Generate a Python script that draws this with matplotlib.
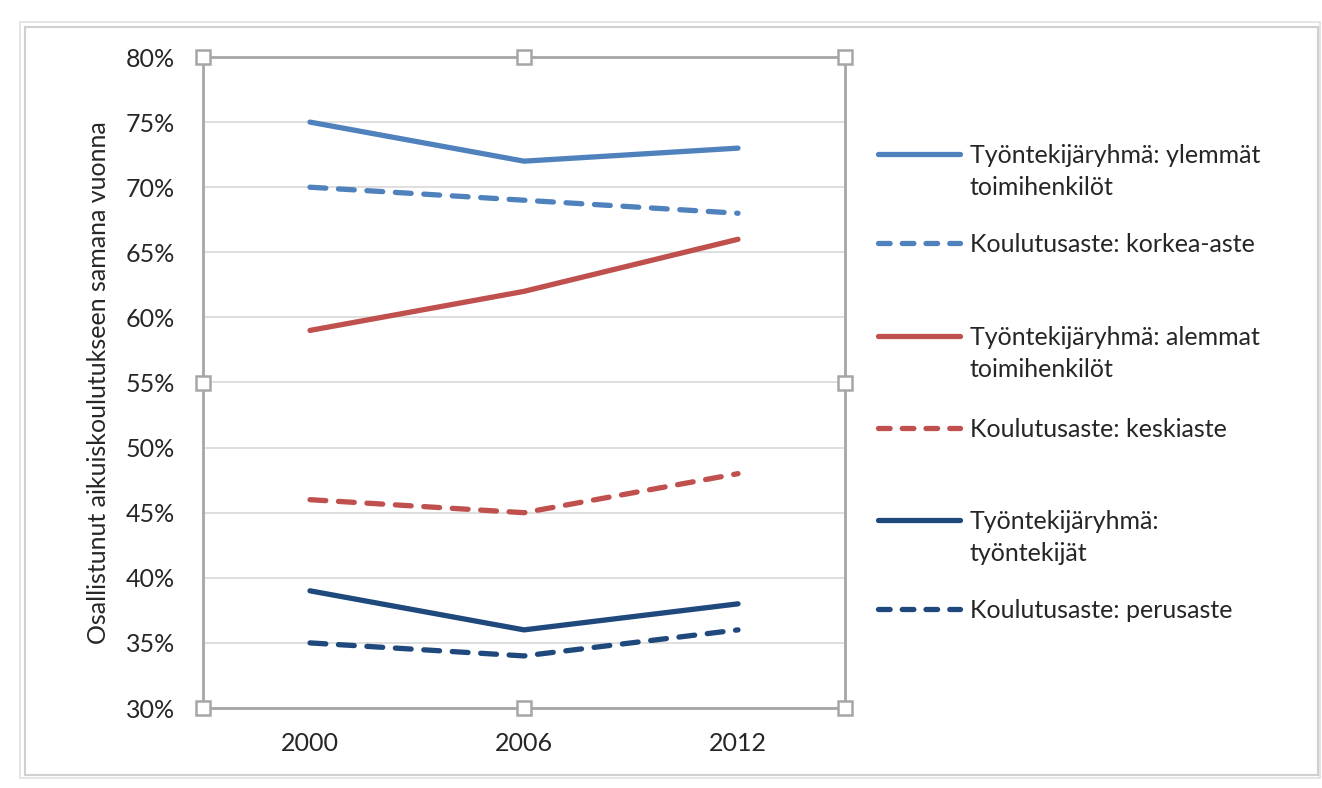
import numpy as np
import matplotlib
matplotlib.use("Agg")
from matplotlib import pyplot as plt
from matplotlib.patches import Rectangle
from matplotlib.lines import Line2D
from matplotlib.ticker import FuncFormatter

plt.rcParams['font.family'] = ['Lato', 'DejaVu Sans']

years = ['2000', '2006', '2012']
ylemmat = [75, 72, 73]
korkea = [70, 69, 68]
alemmat = [59, 62, 66]
keski = [46, 45, 48]
tyontekijat = [39, 36, 38]
perus = [35, 34, 36]

labels = ['Työntekijäryhmä: ylemmät\ntoimihenkilöt',
          'Koulutusaste: korkea-aste',
          'Työntekijäryhmä: alemmat\ntoimihenkilöt',
          'Koulutusaste: keskiaste',
          'Työntekijäryhmä:\ntyöntekijät',
          'Koulutusaste: perusaste']

LIGHT = '#4F81BD'
RED = '#C0504D'
DARK = '#1F497D'
GRID = '#D9D9D9'
FRAME = '#A6A6A6'
TXT = '#262626'
FS = 18
LW = 3.8
W, H = 1322, 788

fig = plt.figure(figsize=(W/100, H/100), dpi=100)
ax = fig.add_axes([203/W, 1-708/H, 642/W, 651/H])

x = np.arange(len(years))
series = [(ylemmat, LIGHT, '-'), (korkea, LIGHT, '--'),
          (alemmat, RED, '-'), (keski, RED, '--'),
          (tyontekijat, DARK, '-'), (perus, DARK, '--')]
for vals, col, ls in series:
    l, = ax.plot(x, vals, color=col, lw=LW, solid_capstyle='round',
                 dash_capstyle='round', zorder=3)
    if ls == '--':
        l.set_dashes((3.0, 2.4))

ax.set_xlim(-0.5, 2.5)
ax.set_ylim(30, 80)
ax.set_yticks(np.arange(30, 81, 5))
ax.yaxis.set_major_formatter(FuncFormatter(lambda v, p: f'{v:.0f}%'))
ax.set_xticks(x)
ax.set_xticklabels(years)
ax.tick_params(length=0, labelsize=FS, colors=TXT)
ax.tick_params(axis='x', pad=17)
ax.tick_params(axis='y', pad=20)
ax.grid(axis='y', color=GRID, lw=1.2, zorder=0)
for s in ax.spines.values():
    s.set_color(FRAME)
    s.set_linewidth(2)
ax.set_ylabel('Osallistunut aikuiskoulutukseen samana vuonna', fontsize=FS, color=TXT)
ax.yaxis.set_label_coords((110-203)/642, 0.5)

# selection handles on the plot area
hx = [0, 0.5, 1, 0, 1, 0, 0.5, 1]
hy = [1, 1, 1, 0.5, 0.5, 0, 0, 0]
ax.plot(hx, hy, ls='none', marker='s', ms=9.5, mfc='white', mec=FRAME, mew=1.8,
        transform=ax.transAxes, clip_on=False, zorder=5)

# chart area frame
fig.patches.append(Rectangle((25/W, 1-775/H), 1293/W, 748/H,
                             transform=fig.transFigure, fill=False,
                             ec='#D0D0D0', lw=1.5))
fig.patches.append(Rectangle((20/W, 1-778/H), 1300/W, 756/H,
                             transform=fig.transFigure, fill=False,
                             ec='#E0E0E0', lw=1.2))

# legend, laid out like Excel's (first line of each entry in pixels from top)
leg_y = [154, 243, 336, 428, 520, 609]
LINE_GAP = 32
for (vals, col, ls), lab, yy in zip(series, labels, leg_y):
    key = Line2D([878/W, 960/W], [1-yy/H, 1-yy/H], transform=fig.transFigure,
                 color=col, lw=LW, solid_capstyle='round', dash_capstyle='round')
    if ls == '--':
        key.set_dashes((2.2, 2.3))
    fig.add_artist(key)
    for i, part in enumerate(lab.split('\n')):
        fig.text(970/W, 1-(yy+9+i*LINE_GAP)/H, part, fontsize=FS, color=TXT,
                 ha='left', va='baseline')

fig.savefig('out.png', dpi=100)
